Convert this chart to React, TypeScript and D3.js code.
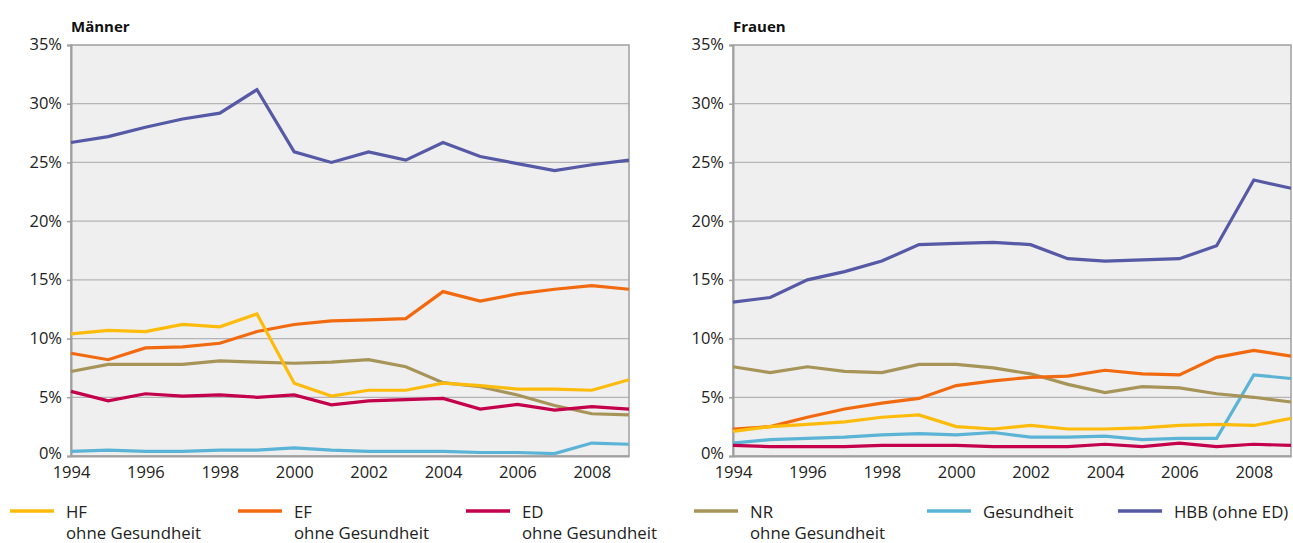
import React, { useEffect, useRef } from "react";
import * as d3 from "d3";

const years = d3.range(1994, 2010);
const yTicks = [0, 5, 10, 15, 20, 25, 30, 35];
const xTicks = [1994, 1996, 1998, 2000, 2002, 2004, 2006, 2008];

// Männer
const menHF = [10.4, 10.7, 10.6, 11.2, 11.0, 12.1, 6.2, 5.1, 5.6, 5.6, 6.2, 6.0, 5.7, 5.7, 5.6, 6.5];
const menEF = [8.75, 8.2, 9.2, 9.3, 9.6, 10.6, 11.2, 11.5, 11.6, 11.7, 14.0, 13.2, 13.8, 14.2, 14.5, 14.2];
const menED = [5.5, 4.7, 5.3, 5.1, 5.2, 5.0, 5.2, 4.35, 4.7, 4.8, 4.9, 4.0, 4.4, 3.9, 4.2, 4.0];
const menNR = [7.2, 7.8, 7.8, 7.8, 8.1, 8.0, 7.9, 8.0, 8.2, 7.6, 6.25, 5.9, 5.2, 4.3, 3.6, 3.5];
const menGes = [0.4, 0.5, 0.4, 0.4, 0.5, 0.5, 0.7, 0.5, 0.4, 0.4, 0.4, 0.3, 0.3, 0.2, 1.1, 1.0];
const menHBB = [26.7, 27.2, 28.0, 28.7, 29.2, 31.2, 25.9, 25.0, 25.9, 25.2, 26.7, 25.5, 24.9, 24.3, 24.8, 25.2];

// Frauen
const womenHF = [2.1, 2.5, 2.7, 2.9, 3.3, 3.5, 2.5, 2.3, 2.6, 2.3, 2.3, 2.4, 2.6, 2.7, 2.6, 3.2];
const womenEF = [2.3, 2.5, 3.3, 4.0, 4.5, 4.9, 6.0, 6.4, 6.7, 6.8, 7.3, 7.0, 6.9, 8.4, 9.0, 8.5];
const womenED = [0.9, 0.8, 0.8, 0.8, 0.9, 0.9, 0.9, 0.8, 0.8, 0.8, 1.0, 0.8, 1.1, 0.8, 1.0, 0.9];
const womenNR = [7.6, 7.1, 7.6, 7.2, 7.1, 7.8, 7.8, 7.5, 7.0, 6.1, 5.4, 5.9, 5.8, 5.3, 5.0, 4.6];
const womenGes = [1.1, 1.4, 1.5, 1.6, 1.8, 1.9, 1.8, 2.0, 1.6, 1.6, 1.7, 1.4, 1.5, 1.5, 6.9, 6.6];
const womenHBB = [13.1, 13.5, 15.0, 15.7, 16.6, 18.0, 18.1, 18.2, 18.0, 16.8, 16.6, 16.7, 16.8, 17.9, 23.5, 22.8];

const seriesNames = ["HF", "EF", "ED", "NR", "Gesundheit", "HBB (ohne ED)"];
const seriesSub = ["ohne Gesundheit", "ohne Gesundheit", "ohne Gesundheit", "ohne Gesundheit", "", ""];
const colors = ["#fdbb0c", "#f26a0f", "#c4004c", "#a69458", "#5bb3d6", "#5659a6"];

const panels = [
  { title: "Männer", left: 71, series: [menHF, menEF, menED, menNR, menGes, menHBB] },
  { title: "Frauen", left: 733, series: [womenHF, womenEF, womenED, womenNR, womenGes, womenHBB] },
];

// draw order (back to front)
const drawOrder = [4, 3, 2, 1, 0, 5];
const legendX = [10, 238, 466, 694, 927, 1118];

export default function App() {
  const svgRef = useRef<SVGSVGElement>(null);

  useEffect(() => {
    const svg = d3.select(svgRef.current);
    svg.selectAll("*").remove();
    const font = "'Open Sans', 'Noto Sans', sans-serif";
    const top = 45;
    const bottom = 456;
    const plotW = 558;

    const yScale = d3.scaleLinear().domain([0, 35]).range([bottom, top]);

    panels.forEach((p) => {
      const xScale = d3.scaleLinear().domain([1994, 2009]).range([p.left, p.left + plotW]);
      const g = svg.append("g");

      g.append("rect")
        .attr("x", p.left)
        .attr("y", top)
        .attr("width", plotW)
        .attr("height", bottom - top)
        .attr("fill", "#efefef");

      // gridlines
      g.selectAll(".grid")
        .data(yTicks.slice(1, -1))
        .enter()
        .append("line")
        .attr("x1", p.left)
        .attr("x2", p.left + plotW)
        .attr("y1", (d) => yScale(d))
        .attr("y2", (d) => yScale(d))
        .attr("stroke", "#b4b4b4")
        .attr("stroke-width", 1.2);

      // frame
      g.append("rect")
        .attr("x", p.left)
        .attr("y", top)
        .attr("width", plotW)
        .attr("height", bottom - top)
        .attr("fill", "none")
        .attr("stroke", "#a0a0a0")
        .attr("stroke-width", 1.5);

      // y axis
      const yAxis = d3
        .axisLeft(yScale)
        .tickValues(yTicks)
        .tickSize(4)
        .tickPadding(5)
        .tickFormat((d) => `${d}%`);
      const ya = g.append("g").attr("transform", `translate(${p.left},0)`).call(yAxis);
      ya.select(".domain").attr("stroke", "#a0a0a0").attr("stroke-width", 2);
      ya.selectAll(".tick line").attr("stroke", "#a0a0a0").attr("stroke-width", 1.5);
      ya.selectAll("text")
        .attr("font-family", font)
        .attr("font-size", 16.5)
        .attr("fill", "#222")
        .attr("dy", (d) => (d === 0 ? "0.15em" : "0.3em"));

      // x axis
      const xAxis = d3
        .axisBottom(xScale)
        .tickValues(xTicks)
        .tickSize(0)
        .tickPadding(13)
        .tickFormat(d3.format("d"));
      const xa = g.append("g").attr("transform", `translate(0,${bottom})`).call(xAxis);
      xa.select(".domain").attr("stroke", "#a0a0a0").attr("stroke-width", 2);
      xa.selectAll("text")
        .attr("font-family", font)
        .attr("font-size", 16.5)
        .attr("fill", "#222")
        .attr("dy", "0.55em");

      g.append("text")
        .attr("x", p.left)
        .attr("y", 32)
        .attr("font-family", font)
        .attr("font-weight", "bold")
        .attr("font-size", 15)
        .attr("fill", "#111")
        .text(p.title);

      const line = d3
        .line<number>()
        .x((_, i) => xScale(years[i]))
        .y((d) => yScale(d));

      drawOrder.forEach((k) => {
        g.append("path")
          .datum(p.series[k])
          .attr("d", line)
          .attr("fill", "none")
          .attr("stroke", colors[k])
          .attr("stroke-width", 3.2)
          .attr("stroke-linejoin", "miter");
      });
    });

    // legend
    const lg = svg.append("g");
    seriesNames.forEach((name, i) => {
      const x = legendX[i];
      lg.append("line")
        .attr("x1", x)
        .attr("x2", x + 44)
        .attr("y1", 511)
        .attr("y2", 511)
        .attr("stroke", colors[i])
        .attr("stroke-width", 3.5);
      lg.append("text")
        .attr("x", x + 56)
        .attr("y", 518)
        .attr("font-family", font)
        .attr("font-size", 16.8)
        .attr("fill", "#222")
        .text(name);
      if (seriesSub[i]) {
        lg.append("text")
          .attr("x", x + 56)
          .attr("y", 539)
          .attr("font-family", font)
          .attr("font-size", 16.8)
          .attr("fill", "#222")
          .text(seriesSub[i]);
      }
    });
  }, []);

  return (
    <svg
      ref={svgRef}
      width={1293}
      height={543}
      style={{ position: "absolute", left: 0, top: 0, background: "#fff" }}
    />
  );
}
